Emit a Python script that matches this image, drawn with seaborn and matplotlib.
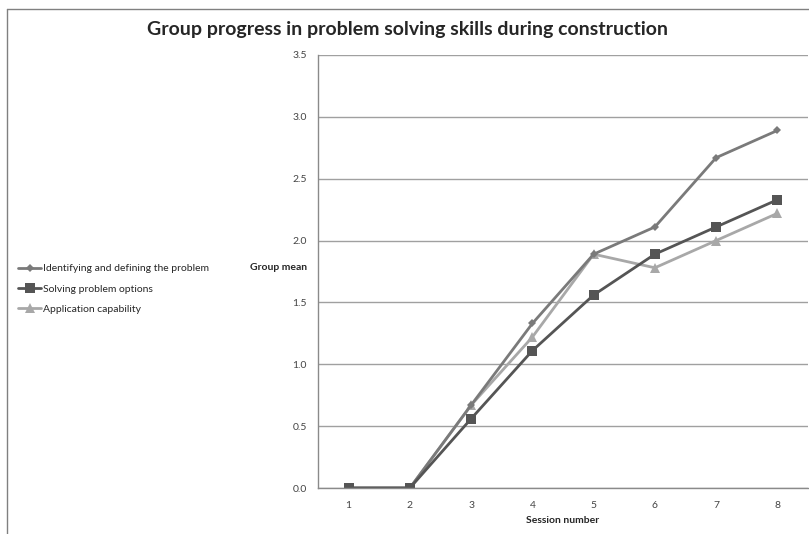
import pandas as pd
import matplotlib.pyplot as plt
import seaborn as sns
from matplotlib.lines import Line2D
from matplotlib.ticker import FixedLocator

# Data
sessions = [1, 2, 3, 4, 5, 6, 7, 8]
identifying = [0.0, 0.0, 0.67, 1.33, 1.89, 2.11, 2.67, 2.89]
solving = [0.0, 0.0, 0.56, 1.11, 1.56, 1.89, 2.11, 2.33]
application = [0.0, 0.0, 0.67, 1.22, 1.89, 1.78, 2.00, 2.22]
series_names = ["Identifying and defining the problem",
                "Solving problem options",
                "Application capability"]
y_ticks = [0.0, 0.5, 1.0, 1.5, 2.0, 2.5, 3.0, 3.5]

df = pd.DataFrame({
    "Session": sessions * 3,
    "Mean": identifying + solving + application,
    "Skill": [series_names[0]] * 8 + [series_names[1]] * 8 + [series_names[2]] * 8,
})

sns.set_style("white")
plt.rcParams['font.family'] = ['Lato', 'DejaVu Sans']

fig = plt.figure(figsize=(8.09, 5.34), dpi=100)
ax = fig.add_axes([318 / 809, 1 - 488 / 534, 490 / 809, 433 / 534])

styles = {
    series_names[0]: dict(color="#7a7a7a", marker="D", markersize=4.5),
    series_names[1]: dict(color="#555555", marker="s", markersize=7),
    series_names[2]: dict(color="#a8a8a8", marker="^", markersize=6.5),
}
# draw in reverse so the dark ones sit on top like the original
for name in [series_names[2], series_names[0], series_names[1]]:
    st = styles[name]
    sns.lineplot(data=df[df["Skill"] == name], x="Session", y="Mean", ax=ax,
                 color=st["color"], marker=st["marker"], markersize=st["markersize"],
                 markeredgewidth=0, linewidth=2, label=name, legend=False)

ax.set_xlim(0.5, 8.5)
ax.set_ylim(0, 3.5)
ax.set_yticks(y_ticks)
ax.set_yticklabels([f"{v:.1f}" for v in y_ticks])
ax.set_xticks(sessions)
ax.xaxis.set_minor_locator(FixedLocator([s + 0.5 for s in [0] + sessions]))
ax.tick_params(axis="x", which="major", length=0, labelsize=7.5, colors="#444444", pad=9)
ax.tick_params(axis="x", which="minor", length=4, color="#888888", direction="out")
ax.tick_params(axis="y", which="major", length=4, color="#888888", direction="out",
               labelsize=7.5, labelcolor="#444444", pad=4)
ax.grid(axis="y", color="#a0a0a0", linewidth=1)
ax.set_axisbelow(True)
for side in ["top", "right"]:
    ax.spines[side].set_visible(False)
for side in ["left", "bottom"]:
    ax.spines[side].set_color("#8a8a8a")
    ax.spines[side].set_linewidth(1)

ax.set_xlabel("Session number", fontsize=7.5, fontweight="bold", labelpad=5)
ax.set_ylabel("")
fig.text(250 / 809, 1 - 268 / 534, "Group mean", fontsize=7.5, fontweight="bold",
         va="center", ha="left")

fig.text(408 / 809, 1 - 30 / 534,
         "Group progress in problem solving skills during construction",
         fontsize=14, fontweight="bold", ha="center", va="center")

handles, labels = ax.get_legend_handles_labels()
order = [labels.index(n) for n in series_names]
ax.legend([handles[i] for i in order], [labels[i] for i in order],
          loc="upper left", bbox_to_anchor=(14 / 809, 1 - 260 / 534),
          bbox_transform=fig.transFigure, frameon=False, fontsize=7.5,
          handlelength=2.2, handletextpad=0.2, labelspacing=1.05, borderaxespad=0)

# thin frame around the picture, top and left like the scan
fig.add_artist(Line2D([7 / 809, 1], [1 - 9 / 534, 1 - 9 / 534], color="#808080",
                      linewidth=1, transform=fig.transFigure))
fig.add_artist(Line2D([7 / 809, 7 / 809], [0, 1 - 9 / 534], color="#808080",
                      linewidth=1, transform=fig.transFigure))

fig.savefig("out.png", dpi=100)
